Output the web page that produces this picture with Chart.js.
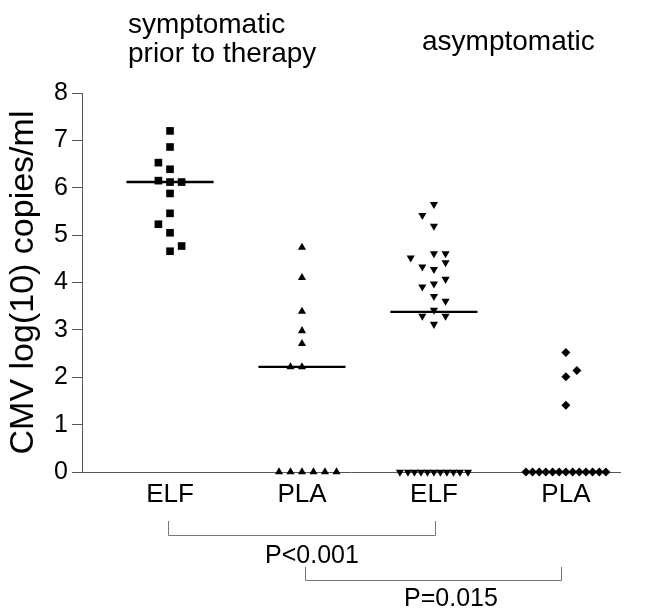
<!DOCTYPE html>
<html>
<head>
<meta charset="utf-8">
<script src="https://cdn.jsdelivr.net/npm/chart.js@4.4.0/dist/chart.umd.min.js"></script>
<style>
html,body{margin:0;padding:0;background:#fff;}
#wrap{width:652px;height:609px;}
</style>
</head>
<body>
<div id="wrap"><canvas id="c" width="652" height="609"></canvas></div>
<script>
// ---- data ----
const categories = ['ELF', 'PLA', 'ELF', 'PLA'];
const yTickValues = [0, 1, 2, 3, 4, 5, 6, 7, 8];
const yTitle = 'CMV log(10) copies/ml';

// symptomatic prior to therapy – ELF (squares)
const elfSympValues  = [7.20, 6.86, 6.53, 6.39, 6.15, 6.12, 6.12, 5.88, 5.46, 5.23, 5.05, 4.77, 4.66];
const elfSympOffsets = [0, 0, -0.088, 0, -0.088, 0, 0.088, 0, 0, -0.088, 0, 0.088, 0];

// symptomatic prior to therapy – PLA (triangles)
const plaSympValues  = [4.74, 4.10, 3.39, 2.98, 2.71, 2.22, 2.22, 0, 0, 0, 0, 0, 0];
const plaSympOffsets = [0, 0, 0, 0, 0, -0.087, 0, -0.174, -0.087, 0, 0.087, 0.174, 0.262];

// asymptomatic – ELF (down triangles)
const elfAsympValues  = [5.65, 5.42, 5.19, 4.61, 4.61, 4.52, 4.42, 4.33, 4.28, 4.07, 3.97, 3.91, 3.71, 3.61, 3.42, 3.29, 3.29, 3.12,
                         0, 0, 0, 0, 0, 0, 0, 0, 0, 0, 0];
const elfAsympOffsets = [0, -0.088, 0, 0, 0.088, -0.176, 0.088, -0.088, 0, 0.088, 0, -0.088, 0, 0.088, 0, -0.088, 0.088, 0,
                         -0.258, -0.197, -0.148, -0.098, -0.049, 0, 0.049, 0.098, 0.148, 0.197, 0.258];

// asymptomatic – PLA (diamonds)
const plaAsympValues  = [2.52, 2.14, 2.01, 1.41, 0, 0, 0, 0, 0, 0, 0, 0, 0, 0, 0, 0, 0];
const plaAsympOffsets = [0, 0.083, 0, 0, -0.303, -0.253, -0.202, -0.152, -0.101, -0.051, 0, 0.051, 0.101, 0.152, 0.202, 0.253, 0.303];

// group medians (horizontal bars); last group median is 0 (on the axis)
const medians = [6.12, 2.22, 3.38, null];

// comparison brackets (in category units) and their p-values
const bracketFrom = [0.985, 2.023];
const bracketTo   = [3.008, 3.963];
const pLabels     = ['P<0.001', 'P=0.015'];

const groupHeaders = [['symptomatic', 'prior to therapy'], ['asymptomatic']];

// ---- chart ----
const FONT = "'Liberation Sans', Arial, Helvetica, sans-serif";
const groups = [
  {v: elfSympValues,  o: elfSympOffsets,  style: 'rect',     rot: 0,   r: 5.4},
  {v: plaSympValues,  o: plaSympOffsets,  style: 'triangle', rot: 0,   r: 4.7},
  {v: elfAsympValues, o: elfAsympOffsets, style: 'triangle', rot: 180, r: 4.7},
  {v: plaAsympValues, o: plaAsympOffsets, style: 'rectRot',  rot: 0,   r: 4.5}
];

const datasets = [];
groups.forEach((g, gi) => {
  datasets.push({
    type: 'scatter',
    data: g.v.map((y, k) => ({x: gi + 1 + g.o[k], y: y})),
    pointStyle: g.style,
    rotation: g.rot,
    pointRadius: g.r,
    pointHoverRadius: g.r,
    backgroundColor: '#000',
    borderColor: '#000',
    borderWidth: 0,
    clip: false,
    order: 1
  });
});
medians.forEach((m, gi) => {
  if (m === null) return;
  datasets.push({
    type: 'line',
    data: [{x: gi + 1 - 0.33, y: m}, {x: gi + 1 + 0.33, y: m}],
    borderColor: '#000',
    borderWidth: 2.4,
    pointRadius: 0,
    fill: false,
    clip: false,
    order: 0
  });
});

const annot = {
  id: 'annot',
  afterDraw(chart) {
    const ctx = chart.ctx;
    const xs = chart.scales.x;
    ctx.save();
    ctx.fillStyle = '#000';
    ctx.textBaseline = 'alphabetic';
    ctx.textAlign = 'left';
    ctx.font = '28px ' + FONT;
    ctx.fillText(groupHeaders[0][0], 128, 33);
    ctx.fillText(groupHeaders[0][1], 128, 62);
    ctx.fillText(groupHeaders[1][0], 422, 50);

    // brackets
    ctx.strokeStyle = '#777';
    ctx.lineWidth = 1;
    const bTop = [521, 567], bBot = [535, 580];
    const pX = [312, 451], pY = [563, 606];
    for (let i = 0; i < bracketFrom.length; i++) {
      const x1 = Math.round(xs.getPixelForValue(bracketFrom[i])) + 0.5;
      const x2 = Math.round(xs.getPixelForValue(bracketTo[i])) + 0.5;
      ctx.beginPath();
      ctx.moveTo(x1, bTop[i]);
      ctx.lineTo(x1, bBot[i] + 0.5);
      ctx.lineTo(x2, bBot[i] + 0.5);
      ctx.lineTo(x2, bTop[i]);
      ctx.stroke();
      ctx.textAlign = 'center';
      ctx.font = '25px ' + FONT;
      ctx.fillText(pLabels[i], pX[i], pY[i]);
    }
    ctx.restore();
  }
};

new Chart(document.getElementById('c'), {
  data: {datasets},
  options: {
    responsive: false,
    animation: false,
    devicePixelRatio: 1,
    layout: {padding: {top: 93, right: 32, bottom: 0, left: 0}},
    plugins: {legend: {display: false}, tooltip: {enabled: false}},
    scales: {
      x: {
        type: 'linear',
        min: 0.333,
        max: 4.41,
        afterBuildTicks: (s) => { s.ticks = categories.map((c, i) => ({value: i + 1})); },
        afterFit: (s) => { s.height = 137; },
        ticks: {
          callback: (v) => categories[Math.round(v) - 1] || '',
          font: {size: 26, family: FONT},
          color: '#000',
          padding: 7,
          autoSkip: false,
          maxRotation: 0
        },
        grid: {display: true, drawOnChartArea: false, drawTicks: false},
        border: {display: true, color: '#555', width: 1}
      },
      y: {
        type: 'linear',
        min: 0,
        max: 8,
        afterBuildTicks: (s) => { s.ticks = yTickValues.map(v => ({value: v})); },
        afterFit: (s) => { s.width = 82; },
        ticks: {
          font: {size: 25, family: FONT},
          color: '#000',
          padding: 4
        },
        grid: {display: true, drawOnChartArea: false, drawTicks: true, tickLength: 10, color: '#555'},
        border: {display: true, color: '#555', width: 1},
        title: {
          display: true,
          text: yTitle,
          font: {size: 34, family: FONT},
          color: '#000',
          padding: {top: 3, bottom: 0}
        }
      }
    }
  },
  plugins: [annot]
});
</script>
</body>
</html>
